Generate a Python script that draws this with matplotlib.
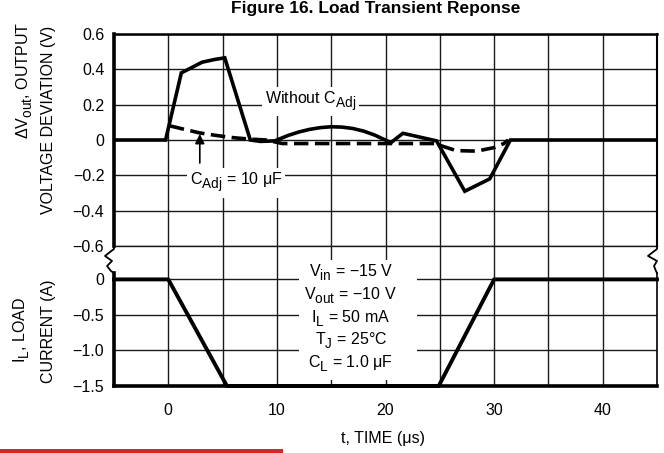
import numpy as np
import matplotlib
matplotlib.use("Agg")
import matplotlib.pyplot as plt
from matplotlib.patches import Rectangle
from matplotlib.lines import Line2D

plt.rcParams['font.family'] = 'Liberation Sans'
plt.rcParams['mathtext.fontset'] = 'custom'
plt.rcParams['mathtext.rm'] = 'Liberation Sans'
plt.rcParams['mathtext.it'] = 'Liberation Sans'
plt.rcParams['mathtext.default'] = 'regular'

# bigger, lower subscripts like the datasheet lettering
try:
    import matplotlib._mathtext as _mt
    _mt.SHRINK_FACTOR = 0.85
    _mt.FontConstantsBase.sub1 = 0.55
except Exception:
    pass

# output voltage deviation, without C_Adj (solid)
t_solid = [-5, -0.25, 1.2, 2.0, 3.1, 4.2, 5.2, 7.55, 8.5, 9.8, 11, 12, 13, 14, 15, 16,
           17, 18, 19, 20.5, 21.6, 24.7, 27.3, 29.6, 31.5, 45]
v_solid = [0, 0, 0.38, 0.405, 0.44, 0.455, 0.465, 0, -0.008, -0.005, 0.025, 0.045, 0.06,
           0.07, 0.075, 0.073, 0.065, 0.05, 0.028, -0.015, 0.038, -0.005, -0.29, -0.22, 0, 0]

# with C_Adj = 10 uF (dashed)
t_dash = [0.15, 1.5, 2.9, 4.5, 6.0, 7.5, 9.0, 10.5, 15, 20, 24.5, 26.5, 28.4, 30.0, 30.9, 31.3]
v_dash = [0.08, 0.06, 0.04, 0.025, 0.013, 0.005, 0.0, -0.02, -0.02, -0.02, -0.02, -0.06,
          -0.063, -0.043, -0.02, 0]

# load current
t_cur = [-5, 0, 5.4, 24.9, 30, 45]
i_cur = [0, 0, -1.5, -1.5, 0, 0]

v_ticks = [-0.6, -0.4, -0.2, 0, 0.2, 0.4, 0.6]
v_labels = ['\u22120.6', '\u22120.4', '\u22120.2', '0', '0.2', '0.4', '0.6']
i_ticks = [-1.5, -1.0, -0.5, 0]
i_labels = ['\u22121.5', '\u22121.0', '\u22120.5', '0']
t_ticks = [0, 10, 20, 30, 40]
t_minor = [5, 15, 25, 35]

params = ['V$_{in}$ = \u221215 V', 'V$_{out}$ = \u221210 V', 'I$_{L}$ = 50 mA',
          'T$_{J}$ = 25\u00b0C', 'C$_{L}$ = 1.0 \u03bcF']

W, H = 664, 453
fig = plt.figure(figsize=(W / 100, H / 100), dpi=100)
L, R = 114, 657
ax1 = fig.add_axes([L / W, 1 - 246 / H, (R - L) / W, (246 - 34) / H])
ax2 = fig.add_axes([L / W, 1 - 386 / H, (R - L) / W, (386 - 246) / H])
ax2.patch.set_visible(False)

gridkw = dict(color='#1a1a1a', lw=1.0)
fs = 11.5

for ax in (ax1, ax2):
    ax.set_xlim(-5, 45)
    ax.set_xticks(t_ticks)
    ax.set_xticks(t_minor, minor=True)
    ax.grid(True, which='both', **gridkw)
    ax.tick_params(which='both', length=0, labelsize=fs)
    ax.tick_params(axis='y', pad=7)
    ax.tick_params(axis='x', pad=12)

# top panel
ax1.set_ylim(-0.6, 0.6)
ax1.set_yticks(v_ticks)
ax1.set_yticklabels(v_labels)
ax1.tick_params(axis='x', labelbottom=False)
ax1.spines['bottom'].set_linewidth(1.0)
ax1.spines['bottom'].set_color('#1a1a1a')
ax1.spines['left'].set_linewidth(2.6)
ax1.spines['top'].set_linewidth(1.8)
ax1.spines['right'].set_linewidth(1.5)

ax1.plot(t_solid, v_solid, color='black', lw=2.6, solid_joinstyle='miter')
ax1.plot(t_dash, v_dash, color='black', lw=2.6, dashes=(4, 1.8))

ax1.text(8.9, 0.205, 'Without C$_{Adj}$', fontsize=fs, va='baseline', zorder=4,
         bbox=dict(facecolor='white', edgecolor='none', pad=2))
ax1.text(2.0, -0.255, 'C$_{Adj}$ = 10 \u03bcF', fontsize=fs, va='baseline', zorder=4,
         bbox=dict(facecolor='white', edgecolor='none', pad=2))
ax1.annotate('', xy=(2.9, 0.034), xytext=(2.9, -0.13),
             arrowprops=dict(arrowstyle='-|>', color='black', lw=1.2, mutation_scale=14,
                             shrinkA=0, shrinkB=0), zorder=5)

# bottom panel
ax2.set_ylim(-1.5, 0.47)
ax2.set_yticks(i_ticks)
ax2.set_yticklabels(i_labels)
ax2.spines['top'].set_visible(False)
ax2.spines['left'].set_linewidth(2.6)
ax2.spines['left'].set_bounds(-1.5, 0.085)
ax2.spines['right'].set_linewidth(1.2)
ax2.spines['right'].set_bounds(-1.5, 0.085)
ax2.spines['bottom'].set_linewidth(2.6)

ax2.plot(t_cur, i_cur, color='black', lw=2.8, clip_on=False, zorder=3)

ax2.add_patch(Rectangle((12.0, -1.41), 10.9, 1.68, facecolor='white', edgecolor='none', zorder=3))
for k, s in enumerate(params):
    ax2.text(16.8, 0.042 - 0.318 * k, s, fontsize=fs, ha='center', va='baseline', zorder=4)

# axis break zigzags
aw = R - L
yb = [1.0, 0.979, 0.929, 0.893, 0.857, 0.821, 0.807]
dl = [0, 0, -9, -2, -7, -3, 0]
ax2.add_line(Line2D([d / aw for d in dl], yb, transform=ax2.transAxes, color='black',
                    lw=1.3, clip_on=False))
dr = [0, 0, -9, 0, -3, -1, 0]
ax2.add_line(Line2D([1 + d / aw for d in dr], yb, transform=ax2.transAxes, color='black',
                    lw=1.3, clip_on=False))

# labels
fig.text(25 / W, 1 - 80 / H, '\u0394V$_{out}$, OUTPUT', rotation=90, ha='center', va='center', fontsize=fs)
fig.text(49 / W, 1 - 120 / H, 'VOLTAGE DEVIATION (V)', rotation=90, ha='center', va='center', fontsize=fs)
fig.text(22 / W, 1 - 330 / H, 'I$_{L}$, LOAD', rotation=90, ha='center', va='center', fontsize=fs)
fig.text(49 / W, 1 - 331 / H, 'CURRENT (A)', rotation=90, ha='center', va='center', fontsize=fs)
fig.text(383 / W, 1 - 438 / H, 't, TIME (\u03bcs)', ha='center', va='center', fontsize=fs)
fig.text(376 / W, 1 - 13 / H, 'Figure 16. Load Transient Reponse', ha='center', va='baseline',
         fontsize=12.5, fontweight='bold')

fig.add_artist(Rectangle((0, 0), 283 / W, 4 / H, transform=fig.transFigure,
                         facecolor='#e3231b', edgecolor='none'))

fig.savefig('out.png', dpi=100)
